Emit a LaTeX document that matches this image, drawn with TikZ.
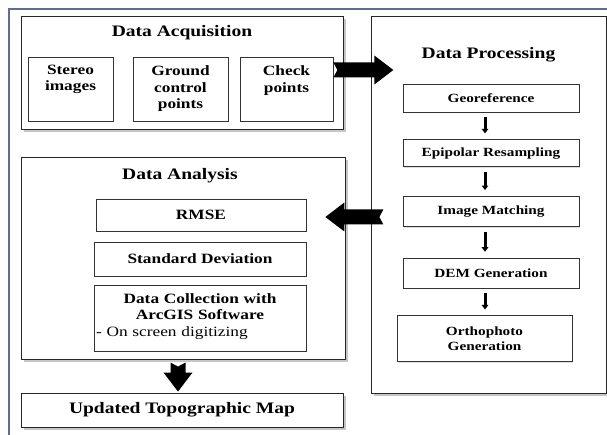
\documentclass[tikz,border=0pt]{standalone}
\usepackage{fontspec}
\setmainfont[FakeStretch=1.22]{Liberation Serif}
\usetikzlibrary{positioning,shadows,arrows.meta}
\definecolor{framegray}{HTML}{5B6E99}

\begin{document}
\begin{tikzpicture}[x=1pt,y=-1pt,
    semithick,
    stage/.style={rectangle,draw=black!85,fill=white,line width=0.9pt,inner sep=0pt,
      drop shadow={shadow xshift=3pt,shadow yshift=-3pt,opacity=0.45}},
    item/.style={rectangle,draw=black!80,fill=white,line width=0.7pt,inner sep=0pt,
      drop shadow={shadow xshift=1.2pt,shadow yshift=-1.2pt,opacity=0.25}},
    heading/.style={inner sep=0pt,font=\fontsize{16}{19}\selectfont\bfseries},
    inside/.style={anchor=north,align=center,inner sep=0pt,
      font=\fontsize{14.2}{16.5}\selectfont\bfseries},
    stepbox/.style={item,minimum width=176pt,align=center,
      font=\fontsize{12.5}{15}\selectfont\bfseries},
    link/.style={-{Triangle[length=4.5pt,width=6.5pt]},line width=3pt,
      shorten <=5pt,shorten >=6pt},
    pics/fatarrow/.style={code={
      \fill (0,0) -- (-19,-14.5) -- (-19,-7.5) -- (-#1,-7.5) -- (-#1+4,0)
        -- (-#1,7.5) -- (-19,7.5) -- (-19,14.5) -- cycle;}}
    ]
    \useasboundingbox (0,0) rectangle (607,435);
    \draw[framegray,line width=1.8pt] (9,435) -- (9,9) -- (607,9);

    % acquisition
    \node[stage,minimum width=322pt,minimum height=113pt] (Acq) at (182,72.5) {};
    \node[heading,below=9.7pt of Acq.north] (AcqT) {Data Acquisition};
    \node[item,minimum width=85pt,minimum height=64pt,
      label={[inside,label distance=-8pt]north:Stereo\\images}] (SI) at (70.5,89) {};
    \node[item,minimum width=95pt,minimum height=64pt,
      label={[inside,label distance=-9pt]north:Ground\\control\\points}] (GCP) at (180.5,89) {};
    \node[item,minimum width=93pt,minimum height=64pt,
      label={[inside,label distance=-9pt]north:Check\\points}] (CP) at (286.5,89) {};

    % processing
    \node[stage,minimum width=235pt,minimum height=377pt] (Proc) at (488.5,204.5) {};
    \node[heading,below=32pt of Proc.north] (ProcT) {Data Processing};
    \node[stepbox,minimum height=28pt] (Geo) at (491,98) {Georeference};
    \node[stepbox,minimum height=27pt,below=27pt of Geo] (Epi) {Epipolar Resampling};
    \node[stepbox,minimum height=30pt,below=29pt of Epi] (IM) {Image Matching};
    \node[stepbox,minimum height=30pt,below=31pt of IM] (DEM) {DEM Generation};
    \node[stepbox,minimum width=175pt,minimum height=46pt,below=27pt of DEM,
      xshift=-6.5pt] (Ortho) {Orthophoto\\Generation};
    \foreach \a/\b in {Geo/Epi,Epi/IM,IM/DEM,DEM/Ortho}
      \draw[link] ([xshift=-6pt]\a.south) -- ([xshift=-6pt]\a.south |- \b.north);

    % analysis
    \node[stage,minimum width=324pt,minimum height=202pt] (Ana) at (183,258) {};
    \node[heading,below=11.3pt of Ana.north,xshift=-3pt] (AnaT) {Data Analysis};
    \node[item,minimum width=210pt,minimum height=32pt,
      font=\fontsize{14.2}{16.5}\selectfont\bfseries] (RMSE) at (201,215) {RMSE};
    \node[item,minimum width=212pt,minimum height=34pt,
      font=\fontsize{14.2}{16.5}\selectfont\bfseries] (SD) at (200,259) {Standard Deviation};
    \node[item,minimum width=212pt,minimum height=66pt,
      label={[inside,text width=208pt,label distance=-8.3pt]north:Data Collection with\\
        ArcGIS Software\\
        \makebox[\linewidth][l]{\mdseries - On screen digitizing}}] (DC) at (200,318) {};

    % result
    \node[stage,minimum width=322pt,minimum height=34pt,
      font=\fontsize{16}{19}\selectfont\bfseries] (UTM) at (182,410) {Updated Topographic Map};

    % block arrows
    \pic at ([xshift=60pt,yshift=19pt]CP.east) {fatarrow=60};
    \pic[rotate=180] at ([xshift=19pt,yshift=-2pt]RMSE.east) {fatarrow=58};
    \pic[rotate=-90] at ([xshift=-4pt,yshift=1pt]UTM.north) {fatarrow=29};
\end{tikzpicture}
\end{document}
